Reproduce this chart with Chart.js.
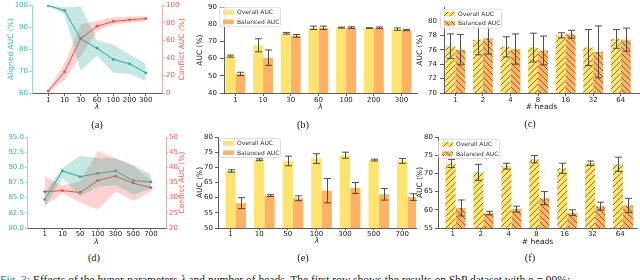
<!DOCTYPE html>
<html><head><meta charset="utf-8">
<script src="https://cdn.jsdelivr.net/npm/chart.js@4.4.0/dist/chart.umd.min.js"></script>
<style>
html,body{margin:0;padding:0;background:#fff;width:640px;height:280px;overflow:hidden;position:relative}
canvas{position:absolute}
.cap{position:absolute;font-family:"Liberation Serif","DejaVu Serif",serif;font-size:10.5px;color:#222;transform:translateX(-50%);line-height:11px}
#fig{position:absolute;left:0;top:274px;font-family:"Liberation Serif",serif;font-size:11.5px;line-height:12px;white-space:nowrap;color:#222}
</style></head><body>
<canvas id="ca" width="196" height="118" style="left:0;top:0"></canvas>
<canvas id="cb" width="230" height="118" style="left:190px;top:0"></canvas>
<canvas id="cc" width="228" height="118" style="left:412px;top:0"></canvas>
<canvas id="cd" width="196" height="118" style="left:0;top:130px"></canvas>
<canvas id="ce" width="230" height="118" style="left:190px;top:130px"></canvas>
<canvas id="cf" width="228" height="118" style="left:412px;top:130px"></canvas>
<div class="cap" style="left:97px;top:119px">(a)</div>
<div class="cap" style="left:303px;top:119px">(b)</div>
<div class="cap" style="left:530px;top:118px">(c)</div>
<div class="cap" style="left:94px;top:252px">(d)</div>
<div class="cap" style="left:303px;top:252px">(e)</div>
<div class="cap" style="left:530px;top:252px">(f)</div>
<div id="fig"><span style="color:#1d6fc9">Fig. 3:</span> Effects of the hyper-parameters <i>λ</i> and number of heads. The first row shows the results on SbP dataset with <i>ρ</i> = 99%;</div>
<script>
// ---------------- data ----------------
const seriesNames = ['Overall AUC', 'Balanced AUC'];
const lineAxisTitles = ['Aligned AUC (%)', 'Conflict AUC (%)'];

// (a)
const lambdaA = ['1','10','30','60','100','200','300'];
const alignedA   = [99.8, 97.6, 84.6, 80.4, 75.3, 73.3, 69.2];
const alignedAHi = [100.0, 99.0, 99.4, 84.0, 82.0, 77.5, 73.3];
const alignedALo = [99.5, 96.0, 70.1, 77.0, 69.3, 68.6, 65.6];
const conflictA   = [2.2, 24.0, 62.0, 76.0, 81.5, 83.3, 84.8];
const conflictAHi = [4.0, 34.0, 78.0, 82.0, 86.0, 87.0, 87.4];
const conflictALo = [0.5, 15.0, 42.0, 70.5, 78.0, 80.0, 81.5];

// (b)
const lambdaB = ['1','10','30','60','100','200','300'];
const overallB    = [61.5, 67.8, 74.8, 78.0, 78.1, 77.8, 77.2];
const overallBErr = [0.6, 3.8, 0.5, 1.0, 0.3, 0.2, 0.7];
const balancedB    = [51.1, 60.6, 73.3, 78.0, 78.1, 78.0, 76.7];
const balancedBErr = [1.0, 4.5, 0.8, 1.0, 0.5, 0.5, 0.4];

// (c)
const headsC = ['1','2','4','8','16','32','64'];
const overallC    = [76.5, 77.4, 76.4, 76.3, 78.0, 76.3, 77.5];
const overallCErr = [1.7, 2.1, 1.4, 2.0, 0.35, 2.5, 1.3];
const balancedC    = [76.0, 77.6, 76.1, 75.9, 78.15, 75.7, 77.4];
const balancedCErr = [2.1, 2.2, 2.1, 2.0, 0.55, 3.6, 1.6];

// (d)
const lambdaD = ['1','10','50','100','300','500','700'];
const alignedD   = [84.7, 89.4, 88.45, 89.0, 89.4, 87.8, 87.6];
const alignedDHi = [85.8, 89.9, 91.9, 91.5, 91.5, 90.4, 88.8];
const alignedDLo = [83.4, 88.3, 85.2, 86.8, 87.1, 85.5, 86.5];
const conflictD   = [32.0, 32.3, 31.7, 35.7, 37.1, 34.8, 33.3];
const conflictDHi = [37.0, 34.0, 35.3, 45.4, 42.9, 40.4, 35.8];
const conflictDLo = [27.3, 31.5, 28.4, 26.0, 32.0, 29.0, 32.0];

// (e)
const lambdaE = ['1','10','50','100','300','500','700'];
const overallE    = [68.8, 72.5, 72.1, 72.9, 74.0, 72.4, 72.1];
const overallEErr = [0.4, 0.3, 1.6, 1.6, 1.0, 0.3, 0.8];
const balancedE    = [58.2, 60.7, 59.8, 62.3, 63.2, 61.1, 60.2];
const balancedEErr = [1.8, 0.3, 0.8, 4.0, 1.8, 1.9, 1.1];

// (f)
const headsF = ['1','2','4','8','16','32','64'];
const overallF    = [72.7, 70.3, 72.0, 73.9, 71.4, 72.8, 72.5];
const overallFErr = [1.1, 2.2, 0.8, 1.0, 1.4, 0.6, 1.95];
const balancedF    = [60.5, 59.1, 60.2, 63.2, 59.2, 61.0, 61.2];
const balancedFErr = [2.2, 0.5, 0.8, 1.8, 0.8, 1.1, 1.95];

// ---------------- styles ----------------
const FONT = 'DejaVu Sans';
Chart.defaults.font.family = FONT;
const TEAL = '#2aa99c', TEAL_TXT = '#3ab5a9', TEAL_BAND = 'rgba(42,169,156,0.27)';
const RED = '#ef4a3d', RED_TXT = '#f0564b', RED_BAND = 'rgba(246,90,80,0.27)';
const YEL = '#fee36f', ORG = '#fdb264';
const AX = '#333';
const TICK_SIZE = 7, TITLE_SIZE = 7.5;

function hatch(color, dir){
  const s = 6, c = document.createElement('canvas'); c.width = c.height = s;
  const g = c.getContext('2d');
  g.fillStyle = color; g.fillRect(0,0,s,s);
  g.strokeStyle = 'rgba(70,55,25,0.85)'; g.lineWidth = 0.75;
  g.beginPath();
  if (dir > 0) { g.moveTo(0,s); g.lineTo(s,0); g.moveTo(-1,1); g.lineTo(1,-1); g.moveTo(s-1,s+1); g.lineTo(s+1,s-1); }
  else { g.moveTo(0,0); g.lineTo(s,s); g.moveTo(s-1,-1); g.lineTo(s+1,1); g.moveTo(-1,s-1); g.lineTo(1,s+1); }
  g.stroke();
  return g.createPattern(c, 'repeat');
}
const YEL_H = hatch(YEL, 1), ORG_H = hatch(ORG, -1);

const EXTRA = {};
const extras = {
  id: 'extras',
  afterDatasetsDraw(chart){
    const ex = EXTRA[chart.canvas.id]; if (!ex || !ex.errs) return;
    const ctx = chart.ctx, ys = chart.scales.y;
    ctx.save(); ctx.strokeStyle = '#3c3c3c'; ctx.lineWidth = 0.9;
    ex.errs.forEach((errArr, di) => {
      const meta = chart.getDatasetMeta(di);
      const vals = chart.data.datasets[di].data;
      meta.data.forEach((el, j) => {
        const v = vals[j].y, e = errArr[j];
        const x = Math.round(el.x) + 0.5;
        const y1 = ys.getPixelForValue(v + e), y2 = ys.getPixelForValue(v - e);
        ctx.beginPath();
        ctx.moveTo(x, y1); ctx.lineTo(x, y2);
        ctx.moveTo(x - 3.5, y1); ctx.lineTo(x + 3.5, y1);
        ctx.moveTo(x - 3.5, y2); ctx.lineTo(x + 3.5, y2);
        ctx.stroke();
      });
    });
    ctx.restore();
  },
  afterDraw(chart){
    const ex = EXTRA[chart.canvas.id]; if (!ex) return;
    const ctx = chart.ctx, ca = chart.chartArea;
    if (ex.rightTitle) {
      ctx.save();
      ctx.translate(ca.right + ex.rightTitle.dx, (ca.top + ca.bottom) / 2);
      ctx.rotate(-Math.PI / 2);
      ctx.font = TITLE_SIZE + 'px "' + FONT + '"';
      ctx.fillStyle = ex.rightTitle.color; ctx.textAlign = 'center'; ctx.textBaseline = 'middle';
      ctx.fillText(ex.rightTitle.text, 0, 0);
      ctx.restore();
    }
    if (ex.legend) {
      const L = ex.legend;
      const x0 = ca.left + L.dx + 0.5, y0 = ca.top + L.dy + 0.5, w = 61, h = 19;
      ctx.save();
      ctx.fillStyle = 'rgba(255,255,255,0.85)'; ctx.strokeStyle = '#d4d4d4'; ctx.lineWidth = 0.8;
      ctx.beginPath(); ctx.roundRect(x0, y0, w, h, 2); ctx.fill(); ctx.stroke();
      ctx.font = '6px "' + FONT + '"'; ctx.textBaseline = 'middle'; ctx.textAlign = 'left';
      chart.data.datasets.forEach((ds, i) => {
        const cy = y0 + 4.8 + i * 9.4;
        ctx.fillStyle = ds.backgroundColor;
        ctx.fillRect(x0 + 3.5, cy - 2.3, 11, 4.6);
        ctx.fillStyle = '#333';
        ctx.fillText(ds.label, x0 + 17.5, cy + 0.3);
      });
      ctx.restore();
    }
  }
};
Chart.register(extras);

function pts(arr){ return arr.map((v, i) => ({x: i, y: v})); }

function xAxis(labels, o){
  return {
    type: 'linear', min: o.xmin, max: o.xmax, offset: false,
    grid: {offset: false, drawOnChartArea: false, tickLength: o.tickLen, color: AX, lineWidth: 0.8},
    border: {color: AX, width: 0.8},
    ticks: {font: {size: TICK_SIZE}, color: '#222', padding: o.tickPad, autoSkip: false, maxRotation: 0,
            callback: (v, i) => labels[i]},
    afterBuildTicks: s => { s.ticks = labels.map((_, i) => ({value: i + (o.shift || 0)})); },
    afterFit: s => { s.height = o.xH; },
    title: {display: true, text: o.xTitle, font: {size: TITLE_SIZE, style: o.italic ? 'italic' : 'normal'}, color: '#222', padding: {top: 0, bottom: o.titlePad}}
  };
}
function yAxis(o){
  return {
    type: 'linear', position: o.pos || 'left', min: o.min, max: o.max,
    grid: {drawOnChartArea: false, tickLength: o.tickLen, color: o.spine || AX, lineWidth: 0.8},
    border: {color: o.spine || AX, width: 0.8},
    ticks: {stepSize: o.step, font: {size: TICK_SIZE}, color: o.color || '#222', padding: o.tickPad,
            callback: o.fmt || (v => v)},
    afterBuildTicks: s => { s.ticks = s.ticks.filter(t => t.value <= (o.tickMax !== undefined ? o.tickMax : o.max) + 1e-9); },
    afterFit: s => { s.width = o.w; },
    title: {display: !!o.title, text: o.title || '', font: {size: TITLE_SIZE}, color: o.color || '#222', padding: {top: o.titlePad || 0, bottom: 0}}
  };
}

function lineChart(id, labels, al, alHi, alLo, cf, cfHi, cfLo, o){
  EXTRA[id] = {rightTitle: {text: lineAxisTitles[1], color: RED_TXT, dx: o.rtDx}};
  const base = {borderWidth: 0, pointRadius: 0, tension: 0};
  new Chart(document.getElementById(id), {
    type: 'line',
    data: {datasets: [
      Object.assign({data: pts(alHi), yAxisID: 'y', fill: false}, base),
      Object.assign({data: pts(alLo), yAxisID: 'y', fill: '-1', backgroundColor: TEAL_BAND}, base),
      Object.assign({data: pts(cfHi), yAxisID: 'y2', fill: false}, base),
      Object.assign({data: pts(cfLo), yAxisID: 'y2', fill: '-1', backgroundColor: RED_BAND}, base),
      {data: pts(al), yAxisID: 'y', borderColor: TEAL, borderWidth: 1, pointRadius: 1.4, pointBackgroundColor: TEAL, pointBorderWidth: 0, tension: 0, fill: false},
      {data: pts(cf), yAxisID: 'y2', borderColor: RED, borderWidth: 1, pointRadius: 1.4, pointBackgroundColor: RED, pointBorderWidth: 0, tension: 0, fill: false}
    ]},
    options: {
      responsive: false, animation: false, events: [],
      layout: {padding: o.pad},
      plugins: {legend: {display: false}, tooltip: {enabled: false}},
      scales: {
        x: xAxis(labels, o.x),
        y: yAxis(Object.assign({color: TEAL_TXT, spine: '#7dcfc6'}, o.y)),
        y2: yAxis(Object.assign({pos: 'right', color: RED_TXT, spine: '#f39a92'}, o.y2))
      }
    }
  });
}

function barChart(id, labels, ov, ovErr, bal, balErr, o){
  EXTRA[id] = {errs: [ovErr, balErr], legend: {dx: o.lgDx, dy: o.lgDy}};
  new Chart(document.getElementById(id), {
    type: 'bar',
    data: {datasets: [
      {label: seriesNames[0], data: pts(ov), backgroundColor: o.hatch ? YEL_H : YEL, categoryPercentage: 0.72, barPercentage: 1, borderWidth: 0},
      {label: seriesNames[1], data: pts(bal), backgroundColor: o.hatch ? ORG_H : ORG, categoryPercentage: 0.72, barPercentage: 1, borderWidth: 0}
    ]},
    options: {
      responsive: false, animation: false, events: [],
      layout: {padding: o.pad},
      plugins: {legend: {display: false}, tooltip: {enabled: false}},
      scales: { x: xAxis(labels, o.x), y: yAxis(o.y) }
    }
  });
}

// (a)
lineChart('ca', lambdaA, alignedA, alignedAHi, alignedALo, conflictA, conflictAHi, conflictALo, {
  pad: {top: 3, left: 0, right: 0, bottom: 0}, rtDx: 20,
  x: {xmin: -1, xmax: 7, xH: 25, tickLen: 3, tickPad: 0, xTitle: 'λ', italic: true, titlePad: 6.5},
  y: {min: 60, max: 100, step: 10, w: 32, tickLen: 3, tickPad: 1, title: lineAxisTitles[0], titlePad: 6.5},
  y2: {min: 0, max: 100, step: 20, w: 34, tickLen: 3, tickPad: 1}
});
// (b)
barChart('cb', lambdaB, overallB, overallBErr, balancedB, balancedBErr, {
  pad: {top: 3, left: 0, right: 3, bottom: 0}, lgDx: -5, lgDy: 0, hatch: false,
  x: {xmin: -0.41, xmax: 6.56, xH: 25, tickLen: 3, tickPad: 0, xTitle: 'λ', italic: true, titlePad: 6.5},
  y: {min: 40, max: 90, step: 10, w: 34, tickLen: 4, tickPad: 3, title: 'AUC (%)', titlePad: 5.5}
});
// (c)
barChart('cc', headsC, overallC, overallCErr, balancedC, balancedCErr, {
  pad: {top: 0, left: 0, right: 1, bottom: 0}, lgDx: -4, lgDy: 1.5, hatch: true,
  x: {xmin: -0.41, xmax: 6.66, xH: 25, tickLen: 3, tickPad: 0, xTitle: '# heads', italic: false, titlePad: 6.5},
  y: {min: 70, max: 81.9, tickMax: 80, step: 2, w: 32, tickLen: 4, tickPad: 3, title: 'AUC (%)', titlePad: 3.5}
});
// (d)
lineChart('cd', lambdaD, alignedD, alignedDHi, alignedDLo, conflictD, conflictDHi, conflictDLo, {
  pad: {top: 7, left: 0, right: 0, bottom: 0}, rtDx: 16,
  x: {xmin: -1, xmax: 6.85, xH: 20, tickLen: 2, tickPad: 0, xTitle: 'λ', italic: true, titlePad: 1.8},
  y: {min: 80, max: 95, step: 2.5, w: 27, tickLen: 2, tickPad: 1, fmt: v => v.toFixed(1)},
  y2: {min: 20, max: 50, step: 5, w: 30, tickLen: 2, tickPad: 1}
});
// (e)
barChart('ce', lambdaE, overallE, overallEErr, balancedE, balancedEErr, {
  pad: {top: 7, left: 0, right: 4, bottom: 0}, lgDx: 1, lgDy: 1, hatch: false,
  x: {xmin: -0.62, xmax: 6.3, xH: 20, tickLen: 2, tickPad: 0, xTitle: 'λ', italic: true, titlePad: 2.5, shift: -0.18},
  y: {min: 50, max: 80, step: 5, w: 28, tickLen: 3, tickPad: 2, title: 'AUC (%)', titlePad: 5.5}
});
// (f)
barChart('cf', headsF, overallF, overallFErr, balancedF, balancedFErr, {
  pad: {top: 7, left: 0, right: 3, bottom: 0}, lgDx: 0, lgDy: 2, hatch: true,
  x: {xmin: -0.63, xmax: 6.5, xH: 20, tickLen: 2, tickPad: 0, xTitle: '# heads', italic: false, titlePad: 1.8, shift: -0.1},
  y: {min: 55, max: 80, step: 5, w: 26, tickLen: 3, tickPad: 2, title: 'AUC (%)', titlePad: 3.5}
});
</script>
</body></html>
